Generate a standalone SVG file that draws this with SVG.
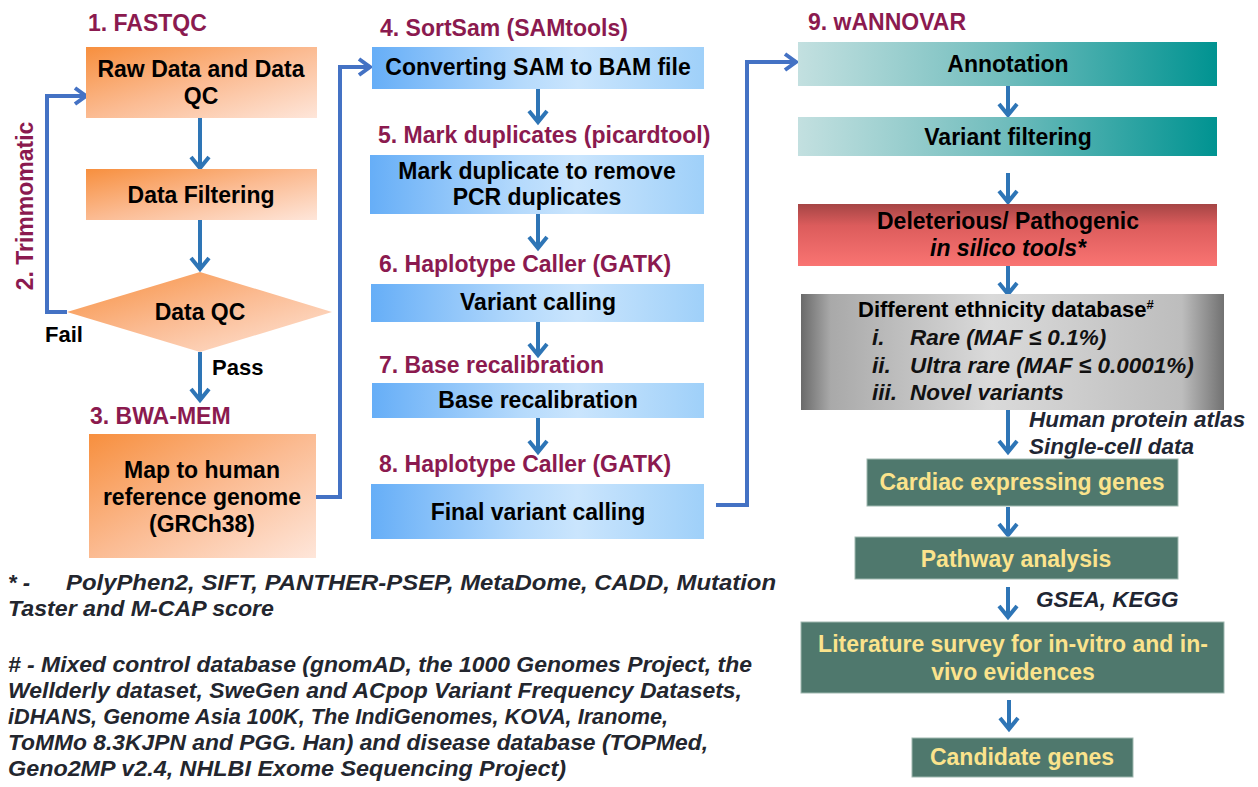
<svg xmlns="http://www.w3.org/2000/svg" width="1258" height="787" viewBox="0 0 1258 787">
<defs>
<linearGradient id="gOrange" x1="0" y1="0" x2="1" y2="1">
<stop offset="0" stop-color="#f78f3e"/>
<stop offset="0.5" stop-color="#fbbb92"/>
<stop offset="1" stop-color="#fee6da"/>
</linearGradient>
<linearGradient id="gBlue" x1="0" y1="0" x2="1" y2="0">
<stop offset="0" stop-color="#66aef7"/>
<stop offset="0.45" stop-color="#b5dafc"/>
<stop offset="0.62" stop-color="#cae5fd"/>
<stop offset="1" stop-color="#9fd0f9"/>
</linearGradient>
<linearGradient id="gTeal" x1="0" y1="0" x2="1" y2="0">
<stop offset="0" stop-color="#c3e0e0"/>
<stop offset="0.5" stop-color="#6fbcbc"/>
<stop offset="1" stop-color="#009391"/>
</linearGradient>
<linearGradient id="gRed" x1="0" y1="0" x2="0" y2="1">
<stop offset="0" stop-color="#a54545"/>
<stop offset="0.35" stop-color="#dc5c5c"/>
<stop offset="1" stop-color="#f97472"/>
</linearGradient>
<linearGradient id="gGray" x1="0" y1="0" x2="1" y2="0">
<stop offset="0" stop-color="#6a6a6a"/>
<stop offset="0.07" stop-color="#a9a9a9"/>
<stop offset="0.45" stop-color="#dadada"/>
<stop offset="0.9" stop-color="#bdbdbd"/>
<stop offset="1" stop-color="#727272"/>
</linearGradient>
<marker id="ah" viewBox="0 0 20 20" markerUnits="userSpaceOnUse" markerWidth="20" markerHeight="20" refX="16" refY="10" orient="auto" overflow="visible">
<path d="M5,1 L16,10 L5,19" fill="none" stroke="#2e75b6" stroke-width="4"/>
</marker>
<marker id="ah2" viewBox="0 0 20 20" markerUnits="userSpaceOnUse" markerWidth="20" markerHeight="20" refX="16" refY="10" orient="auto" overflow="visible">
<path d="M5,2 L16,10 L5,18" fill="none" stroke="#4472c4" stroke-width="4"/>
</marker>
<style>
.title{font-family:"Liberation Sans",Arial,sans-serif;font-weight:bold;font-size:23px;fill:#8b1a4f}
.t{font-family:"Liberation Sans",Arial,sans-serif;font-weight:bold;font-size:23px;fill:#000;text-anchor:middle}
.ty{font-family:"Liberation Sans",Arial,sans-serif;font-weight:bold;font-size:23px;fill:#fbe38c;text-anchor:middle}
.lab{font-family:"Liberation Sans",Arial,sans-serif;font-weight:bold;font-size:22px;fill:#000}
.it{font-family:"Liberation Sans",Arial,sans-serif;font-weight:bold;font-style:italic;font-size:22.5px;fill:#1f2633}
.gi{font-family:"Liberation Sans",Arial,sans-serif;font-weight:bold;font-style:italic;font-size:22.5px;fill:#111}
.fn{font-family:"Liberation Sans",Arial,sans-serif;font-weight:bold;font-style:italic;font-size:22px;fill:#23262e}
.arr{fill:none;stroke:#2e75b6;stroke-width:4;marker-end:url(#ah)}
.elb{fill:none;stroke:#4472c4;stroke-width:4;marker-end:url(#ah2)}
.green{fill:#4f786d;stroke:#9fb8b0;stroke-width:1}
</style>
</defs>
<rect width="1258" height="787" fill="#fff"/>

<g id="connectors">
<line class="arr" x1="200" y1="118" x2="200" y2="168"/>
<line class="arr" x1="200" y1="220" x2="200" y2="269"/>
<line class="arr" x1="200" y1="352" x2="200" y2="400"/>
<polyline class="elb" points="67,312 47,312 47,96 86,96"/>
<polyline class="elb" points="316,497 340,497 340,67 370,67"/>
<line class="arr" x1="538" y1="89" x2="538" y2="122"/>
<line class="arr" x1="538" y1="214" x2="538" y2="248"/>
<line class="arr" x1="538" y1="322" x2="538" y2="355"/>
<line class="arr" x1="538" y1="418" x2="538" y2="452"/>
<polyline class="elb" points="716,505 747,505 747,62 796,62"/>
<line class="arr" x1="1008" y1="86" x2="1008" y2="115"/>
<line class="arr" x1="1008" y1="173" x2="1008" y2="202"/>
<line class="arr" x1="1008" y1="266" x2="1008" y2="294"/>
<line class="arr" x1="1008" y1="410" x2="1008" y2="452"/>
<line class="arr" x1="1008" y1="507" x2="1008" y2="535"/>
<line class="arr" x1="1008" y1="587" x2="1008" y2="617"/>
<line class="arr" x1="1009" y1="700" x2="1009" y2="729"/>
</g>

<g id="labels">
<text class="title" x="88" y="31">1. FASTQC</text>
<text class="title" x="33" y="206" text-anchor="middle" transform="rotate(-90 33 206)">2. Trimmomatic</text>
<text class="lab" x="45" y="342">Fail</text>
<text class="lab" x="212" y="375">Pass</text>
<text class="title" x="90" y="424">3. BWA-MEM</text>
<text class="title" x="380" y="36">4. SortSam (SAMtools)</text>
<text class="title" x="378" y="143">5. Mark duplicates (picardtool)</text>
<text class="title" x="379" y="272">6. Haplotype Caller (GATK)</text>
<text class="title" x="379" y="373">7. Base recalibration</text>
<text class="title" x="379" y="472">8. Haplotype Caller (GATK)</text>
<text class="title" x="808" y="30">9. wANNOVAR</text>
<text class="it" x="1029" y="427">Human protein atlas</text>
<text class="it" x="1029" y="454">Single-cell data</text>
<text class="it" x="1036" y="607">GSEA, KEGG</text>
</g>

<g id="n1">
<rect x="86" y="47" width="231" height="71" fill="url(#gOrange)"/>
<text class="t" x="201" y="77">Raw Data and Data</text>
<text class="t" x="201" y="104">QC</text>
</g>
<g id="n2">
<rect x="86" y="169" width="231" height="51" fill="url(#gOrange)"/>
<text class="t" x="201" y="203">Data Filtering</text>
</g>
<g id="n3">
<polygon points="200,272 332,312 200,352 67,312" fill="url(#gOrange)"/>
<text class="t" x="200" y="320">Data QC</text>
</g>
<g id="n4">
<rect x="89" y="434" width="227" height="124" fill="url(#gOrange)"/>
<text class="t" x="202" y="478">Map to human</text>
<text class="t" x="202" y="505">reference genome</text>
<text class="t" x="202" y="532">(GRCh38)</text>
</g>

<g id="n5">
<rect x="372" y="47" width="332" height="42" fill="url(#gBlue)"/>
<text class="t" x="538" y="75">Converting SAM to BAM file</text>
</g>
<g id="n6">
<rect x="370" y="155" width="334" height="59" fill="url(#gBlue)"/>
<text class="t" x="537" y="179">Mark duplicate to remove</text>
<text class="t" x="537" y="205">PCR duplicates</text>
</g>
<g id="n7">
<rect x="371" y="284" width="333" height="38" fill="url(#gBlue)"/>
<text class="t" x="538" y="310">Variant calling</text>
</g>
<g id="n8">
<rect x="372" y="383" width="332" height="35" fill="url(#gBlue)"/>
<text class="t" x="538" y="408">Base recalibration</text>
</g>
<g id="n9">
<rect x="371" y="484" width="333" height="55" fill="url(#gBlue)"/>
<text class="t" x="538" y="520">Final variant calling</text>
</g>

<g id="n10">
<rect x="798" y="42" width="419" height="44" fill="url(#gTeal)"/>
<text class="t" x="1008" y="72">Annotation</text>
</g>
<g id="n11">
<rect x="798" y="117" width="419" height="39" fill="url(#gTeal)"/>
<text class="t" x="1008" y="145">Variant filtering</text>
</g>
<g id="n12">
<rect x="798" y="204" width="419" height="62" fill="url(#gRed)"/>
<text class="t" x="1008" y="229">Deleterious/ Pathogenic</text>
<text class="t" x="1008" y="256" font-style="italic" fill="#222">in silico tools*</text>
</g>
<g id="n13">
<rect x="801" y="294" width="423" height="116" fill="url(#gGray)"/>
<text class="lab" x="858" y="317" font-size="23" fill="#111">Different ethnicity database<tspan font-size="13" dy="-8">#</tspan></text>
<text class="gi" x="872" y="345">i.</text>
<text class="gi" x="910" y="345">Rare (MAF ≤ 0.1%)</text>
<text class="gi" x="872" y="373">ii.</text>
<text class="gi" x="910" y="373">Ultra rare (MAF ≤ 0.0001%)</text>
<text class="gi" x="872" y="400">iii.</text>
<text class="gi" x="910" y="400">Novel variants</text>
</g>
<g id="n14">
<rect class="green" x="867" y="459" width="311" height="47"/>
<text class="ty" x="1022" y="490">Cardiac expressing genes</text>
</g>
<g id="n15">
<rect class="green" x="855" y="537" width="323" height="42"/>
<text class="ty" x="1016" y="567">Pathway analysis</text>
</g>
<g id="n16">
<rect class="green" x="801" y="622" width="423" height="71"/>
<text class="ty" x="1013" y="652">Literature survey for in-vitro and in-</text>
<text class="ty" x="1013" y="680">vivo evidences</text>
</g>
<g id="n17">
<rect class="green" x="912" y="738" width="221" height="39"/>
<text class="ty" x="1022" y="765">Candidate genes</text>
</g>

<g id="footnotes">
<text class="fn" x="8" y="590">* -</text>
<text class="fn" x="66" y="590" textLength="710" lengthAdjust="spacingAndGlyphs">PolyPhen2,  SIFT,  PANTHER-PSEP,  MetaDome,  CADD,  Mutation</text>
<text class="fn" x="8" y="616" textLength="266" lengthAdjust="spacingAndGlyphs">Taster and M-CAP score</text>
<text class="fn" x="8" y="672" textLength="744" lengthAdjust="spacingAndGlyphs"># - Mixed control database (gnomAD, the 1000 Genomes Project, the</text>
<text class="fn" x="8" y="698" textLength="734" lengthAdjust="spacingAndGlyphs">Wellderly dataset, SweGen and ACpop Variant Frequency Datasets,</text>
<text class="fn" x="8" y="724" textLength="660" lengthAdjust="spacingAndGlyphs">iDHANS, Genome Asia 100K, The IndiGenomes, KOVA, Iranome,</text>
<text class="fn" x="8" y="750" textLength="700" lengthAdjust="spacingAndGlyphs">ToMMo 8.3KJPN and PGG. Han) and disease database (TOPMed,</text>
<text class="fn" x="8" y="776" textLength="558" lengthAdjust="spacingAndGlyphs">Geno2MP v2.4, NHLBI Exome Sequencing Project)</text>
</g>
</svg>
